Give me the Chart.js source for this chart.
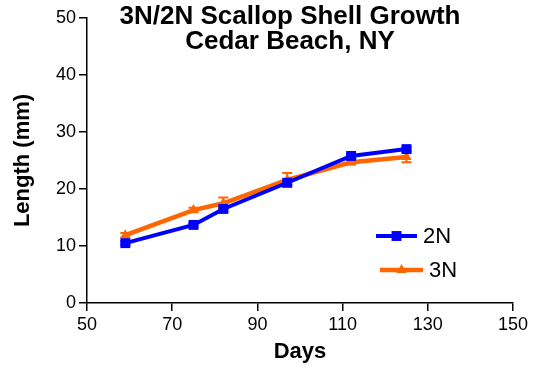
<!DOCTYPE html>
<html>
<head>
<meta charset="utf-8">
<script src="https://cdn.jsdelivr.net/npm/chart.js@4/dist/chart.umd.min.js"></script>
<style>
  html, body { margin: 0; padding: 0; background: #fff; }
  #wrap { width: 538px; height: 368px; }
</style>
</head>
<body>
<div id="wrap"><canvas id="growthChart" width="538" height="368"></canvas></div>
<script>
// shell length by day, per ploidy group
var days   = [59, 75, 82, 97, 112, 125];
var len2N  = [10.5, 13.7, 16.5, 21.1, 25.8, 27.0];
var len3N  = [11.9, 16.3, 17.5, 21.6, 24.7, 25.6];
var err2N  = [0.3, 0.3, 0.4, 0.4, 0.4, 0.3];
var err3N  = [0.4, 0.4, 1.0, 1.2, 0.4, 0.9];
var seriesNames = ['2N', '3N'];
var titleLines  = ['3N/2N Scallop Shell Growth', 'Cedar Beach, NY'];

var FONT = "'Liberation Sans', Arial, sans-serif";
var BLUE = '#0000FF';
var ORANGE = '#FF6600';

var toPoints = function(xs, ys){
    return xs.map(function(x, i){ return {x: x, y: ys[i]}; });
};

// vertical error bars with short caps
var errorBars = {
    id: 'errorBars',
    beforeDatasetsDraw: function(chart){
        var ctx = chart.ctx, xs = chart.scales.x, ys = chart.scales.y;
        var sets = [[len3N, err3N, ORANGE], [len2N, err2N, BLUE]];
        ctx.save();
        ctx.lineWidth = 2;
        sets.forEach(function(s){
            ctx.strokeStyle = s[2];
            days.forEach(function(d, i){
                var px = xs.getPixelForValue(d);
                var top = ys.getPixelForValue(s[0][i] + s[1][i]);
                var bot = ys.getPixelForValue(s[0][i] - s[1][i]);
                ctx.beginPath();
                ctx.moveTo(px, top); ctx.lineTo(px, bot);
                ctx.moveTo(px - 5, top); ctx.lineTo(px + 5, top);
                ctx.moveTo(px - 5, bot); ctx.lineTo(px + 5, bot);
                ctx.stroke();
            });
        });
        ctx.restore();
    }
};

// two-line title and the legend, both sitting inside the plot
var overlay = {
    id: 'overlay',
    afterDraw: function(chart){
        var ctx = chart.ctx;
        ctx.save();
        ctx.fillStyle = '#000';
        ctx.textAlign = 'center';
        ctx.textBaseline = 'alphabetic';
        ctx.font = 'bold 26px ' + FONT;
        ctx.fillText(titleLines[0], 290, 24);
        ctx.fillText(titleLines[1], 290, 49);

        var rows = [
            {ds: chart.data.datasets[0], x0: 376, x1: 417, y: 236},
            {ds: chart.data.datasets[1], x0: 380, x1: 423, y: 270}
        ];
        rows.forEach(function(r){
            ctx.strokeStyle = r.ds.borderColor;
            ctx.lineWidth = r.ds.borderWidth;
            ctx.beginPath();
            ctx.moveTo(r.x0, r.y); ctx.lineTo(r.x1, r.y);
            ctx.stroke();
            ctx.fillStyle = r.ds.backgroundColor;
            Chart.helpers.drawPoint(ctx, {
                pointStyle: r.ds.pointStyle,
                radius: r.ds.pointRadius,
                borderWidth: 0,
                rotation: 0
            }, (r.x0 + r.x1) / 2, r.y);
            ctx.fillStyle = '#000';
            ctx.textAlign = 'left';
            ctx.textBaseline = 'middle';
            ctx.font = '22px ' + FONT;
            ctx.fillText(r.ds.label, r.x1 + 6, r.y + 1);
        });
        ctx.restore();
    }
};

var axisLook = {
    display: true,
    drawOnChartArea: false,
    drawTicks: true,
    tickLength: 8,
    color: '#000',
    lineWidth: 1.5
};

new Chart(document.getElementById('growthChart'), {
    type: 'line',
    data: {
        datasets: [
            {
                label: seriesNames[0],
                data: toPoints(days, len2N),
                borderColor: BLUE,
                backgroundColor: BLUE,
                borderWidth: 4,
                pointStyle: 'rect',
                pointRadius: 7,
                pointBorderWidth: 0,
                tension: 0
            },
            {
                label: seriesNames[1],
                data: toPoints(days, len3N),
                borderColor: ORANGE,
                backgroundColor: ORANGE,
                borderWidth: 4.5,
                pointStyle: 'triangle',
                pointRadius: 6,
                pointBorderWidth: 0,
                tension: 0
            }
        ]
    },
    options: {
        responsive: false,
        animation: false,
        layout: { padding: { top: 18, right: 25, bottom: 0, left: 0 } },
        plugins: {
            legend: { display: false },
            title: { display: false },
            tooltip: { enabled: false }
        },
        scales: {
            x: {
                type: 'linear',
                min: 50,
                max: 150,
                ticks: { stepSize: 20, color: '#000', padding: 3, font: { family: FONT, size: 18 } },
                grid: axisLook,
                border: { display: true, color: '#000', width: 1.5 },
                title: { display: true, text: 'Days', color: '#000', padding: { top: 3, bottom: 3 },
                         font: { family: FONT, size: 22, weight: 'bold' } },
                afterFit: function(scale){ scale.height = 65; }
            },
            y: {
                min: 0,
                max: 50,
                ticks: { stepSize: 10, color: '#000', padding: 3, font: { family: FONT, size: 18 } },
                grid: axisLook,
                border: { display: true, color: '#000', width: 1.5 },
                title: { display: true, text: 'Length (mm)', color: '#000', padding: { top: 10, bottom: 0 },
                         font: { family: FONT, size: 22, weight: 'bold' } },
                afterFit: function(scale){ scale.width = 87; }
            }
        }
    },
    plugins: [errorBars, overlay]
});
</script>
</body>
</html>
